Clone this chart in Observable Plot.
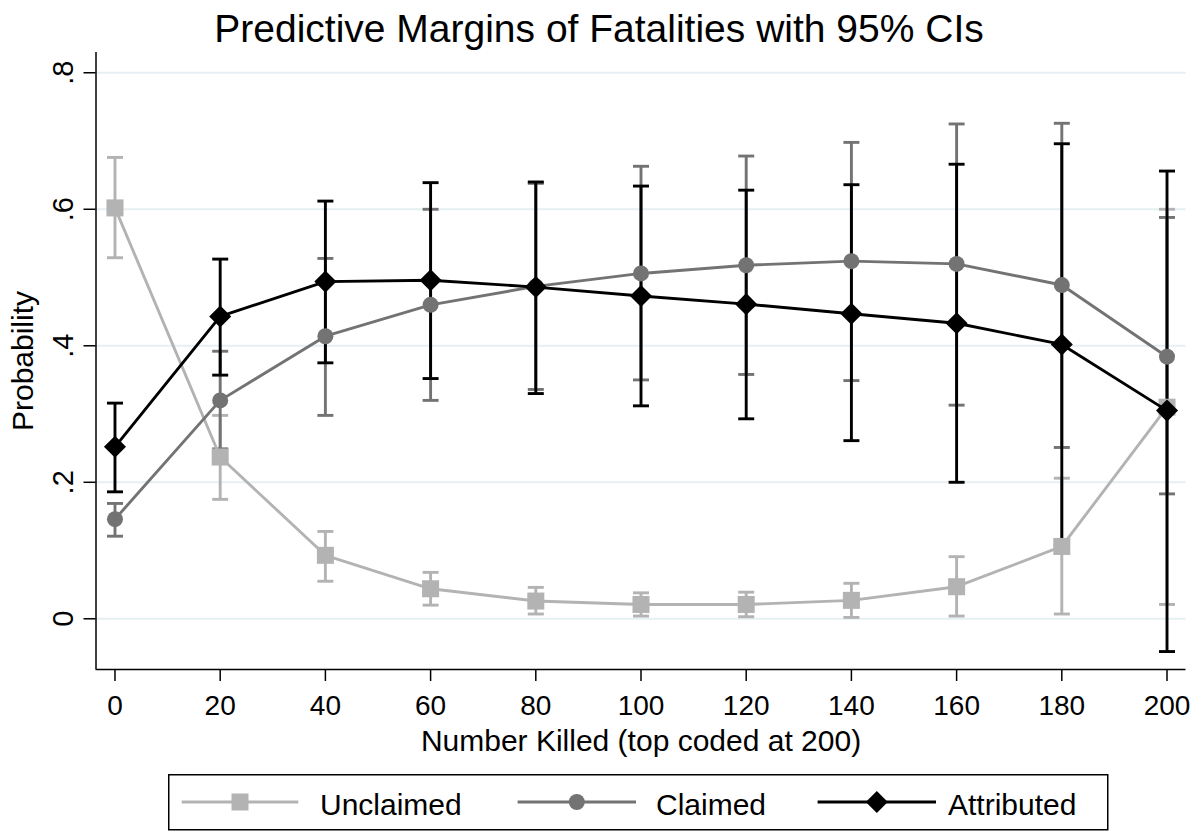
<!DOCTYPE html>
<html>
<head>
<meta charset="utf-8">
<script src="https://cdn.jsdelivr.net/npm/d3@7"></script>
<script src="https://cdn.jsdelivr.net/npm/@observablehq/plot@0.6"></script>
<style>
  html, body { margin: 0; padding: 0; background: #fff; }
  body { font-family: "Liberation Sans", Arial, Helvetica, sans-serif; }
  #wrap { position: relative; width: 1198px; height: 831px; overflow: hidden; background: #fff; }
  #title { position: absolute; left: 0; top: 0; width: 1198px; height: 50px; line-height: 57px;
           text-align: center; font-size: 39px; color: #000; white-space: nowrap; }
  #chart { position: absolute; left: 0; top: 50px; }
  #legend { position: absolute; left: 168px; top: 774px; }
</style>
</head>
<body>
<div id="wrap">
  <div id="title">Predictive Margins of Fatalities with 95% CIs</div>
  <div id="chart"></div>
  <div id="legend"></div>
</div>
<script>
// ---- data ----
const killed = [0, 20, 40, 60, 80, 100, 120, 140, 160, 180, 200];

const unclaimed   = [0.602, 0.237, 0.093, 0.044, 0.026, 0.021, 0.021, 0.027, 0.047, 0.106, 0.310];
const unclaimedLo = [0.529, 0.175, 0.055, 0.020, 0.007, 0.004, 0.003, 0.002, 0.004, 0.007, 0.021];
const unclaimedHi = [0.676, 0.298, 0.128, 0.068, 0.046, 0.038, 0.039, 0.052, 0.091, 0.206, 0.600];

const claimed   = [0.146, 0.320, 0.414, 0.460, 0.487, 0.506, 0.518, 0.524, 0.520, 0.489, 0.384];
const claimedLo = [0.121, 0.249, 0.298, 0.320, 0.336, 0.350, 0.358, 0.349, 0.313, 0.251, 0.183];
const claimedHi = [0.169, 0.392, 0.528, 0.600, 0.638, 0.663, 0.678, 0.698, 0.725, 0.726, 0.588];

const attributed   = [0.252, 0.443, 0.494, 0.496, 0.486, 0.473, 0.461, 0.447, 0.433, 0.402, 0.305];
const attributedLo = [0.186, 0.357, 0.375, 0.352, 0.330, 0.312, 0.293, 0.261, 0.200, 0.108, -0.048];
const attributedHi = [0.316, 0.527, 0.612, 0.639, 0.640, 0.634, 0.628, 0.636, 0.666, 0.696, 0.656];

const seriesNames = ["Unclaimed", "Claimed", "Attributed"];
const xTicks = [0, 20, 40, 60, 80, 100, 120, 140, 160, 180, 200];
const xTickLabels = ["0", "20", "40", "60", "80", "100", "120", "140", "160", "180", "200"];
const yTicks = [0, 0.2, 0.4, 0.6, 0.8];
const yTickLabels = ["0", ".2", ".4", ".6", ".8"];
const xTitle = "Number Killed (top coded at 200)";
const yTitle = "Probability";

// ---- styling ----
const colors = {Unclaimed: "#b3b3b3", Claimed: "#737373", Attributed: "#000000"};
const xDomain = [-3.61, 203.61];
const yDomain = [-0.0743, 0.8297];

const rows = [];
const sets = {
  Unclaimed: [unclaimed, unclaimedLo, unclaimedHi],
  Claimed: [claimed, claimedLo, claimedHi],
  Attributed: [attributed, attributedLo, attributedHi]
};
for (const s of seriesNames) {
  const [v, lo, hi] = sets[s];
  killed.forEach((k, i) => rows.push({series: s, x: k, y: v[i], lo: lo[i], hi: hi[i]}));
}
const bySeries = s => rows.filter(r => r.series === s);

const capSymbol = { draw(ctx) { ctx.moveTo(-8, 0); ctx.lineTo(8, 0); } };

const marks = [
  Plot.ruleY(yTicks, {stroke: "#e6eff2", strokeWidth: 2}),
];
// CIs first (Stata draws all CI plots under the lines)
for (const s of seriesNames) {
  const d = bySeries(s);
  marks.push(Plot.link(d, {x1: "x", x2: "x", y1: "lo", y2: "hi", stroke: colors[s], strokeWidth: 2.9}));
  marks.push(Plot.dot(d, {x: "x", y: "lo", symbol: capSymbol, fill: "none", stroke: colors[s], strokeWidth: 2.9}));
  marks.push(Plot.dot(d, {x: "x", y: "hi", symbol: capSymbol, fill: "none", stroke: colors[s], strokeWidth: 2.9}));
}
// lines + markers
const markerOpts = {
  Unclaimed: {symbol: "square", r: 9.6},
  Claimed: {symbol: "circle", r: 8},
  Attributed: {symbol: "square", r: 8.8, rotate: 45}
};
for (const s of seriesNames) {
  const d = bySeries(s);
  marks.push(Plot.line(d, {x: "x", y: "y", stroke: colors[s], strokeWidth: 2.9}));
  marks.push(Plot.dot(d, {x: "x", y: "y", fill: colors[s], stroke: "none", ...markerOpts[s]}));
}
// axes
marks.push(
  Plot.ruleX([xDomain[0]], {stroke: "#000", strokeWidth: 1.5}),
  Plot.ruleY([yDomain[0]], {stroke: "#000", strokeWidth: 1.5}),
  Plot.axisX({ticks: xTicks, tickSize: 12, strokeWidth: 1.5, label: null, tickFormat: () => ""}),
  Plot.axisY({ticks: yTicks, tickSize: 12, strokeWidth: 1.5, label: null, tickFormat: () => ""}),
  Plot.text(xTicks, {x: d => d, frameAnchor: "bottom", text: (d, i) => xTickLabels[i],
                     textAnchor: "middle", lineAnchor: "top", dy: 26, fontSize: 28, fill: "#000"}),
  Plot.text(yTicks, {y: d => d, frameAnchor: "left", text: (d, i) => yTickLabels[i], rotate: -90,
                     textAnchor: "middle", lineAnchor: "bottom", dx: -23, fontSize: 29, fill: "#000"}),
  Plot.text([yTitle], {frameAnchor: "left", text: d => d, rotate: -90, textAnchor: "middle",
                       lineAnchor: "middle", dx: -73, fontSize: 30, fill: "#000"}),
  Plot.text([xTitle], {frameAnchor: "bottom", text: d => d, textAnchor: "middle",
                       lineAnchor: "bottom", dy: 81, fontSize: 30, fill: "#000"})
);

const plot = Plot.plot({
  width: 1198,
  height: 715,
  marginTop: 2,
  marginBottom: 96,
  marginLeft: 95.5,
  marginRight: 12.5,
  style: {fontFamily: '"Liberation Sans", Arial, Helvetica, sans-serif', background: "transparent", color: "#000"},
  x: {domain: xDomain},
  y: {domain: yDomain},
  marks
});
document.getElementById("chart").appendChild(plot);

// ---- legend (below the chart) ----
const ns = "http://www.w3.org/2000/svg";
const lg = document.createElementNS(ns, "svg");
lg.setAttribute("width", 941);
lg.setAttribute("height", 57);
lg.style.fontFamily = '"Liberation Sans", Arial, Helvetica, sans-serif';
const el = (tag, attrs, parent = lg) => {
  const e = document.createElementNS(ns, tag);
  for (const k in attrs) e.setAttribute(k, attrs[k]);
  parent.appendChild(e);
  return e;
};
el("rect", {x: 0.75, y: 0.75, width: 939, height: 55, fill: "#fff", stroke: "#000", "stroke-width": 1.5});
const items = [
  {name: seriesNames[0], x0: 13.7, x1: 130.3, tx: 152},
  {name: seriesNames[1], x0: 349.6, x1: 468, tx: 488},
  {name: seriesNames[2], x0: 649.6, x1: 768, tx: 780}
];
items.forEach(it => {
  const c = colors[it.name], cx = (it.x0 + it.x1) / 2, cy = 28;
  el("line", {x1: it.x0, x2: it.x1, y1: cy, y2: cy, stroke: c, "stroke-width": 2.9});
  if (it.name === "Unclaimed") el("rect", {x: cx - 8.5, y: cy - 8.5, width: 17, height: 17, fill: c});
  else if (it.name === "Claimed") el("circle", {cx, cy, r: 8, fill: c});
  else el("path", {d: `M${cx},${cy - 11}L${cx + 11},${cy}L${cx},${cy + 11}L${cx - 11},${cy}Z`, fill: c});
  const t = el("text", {x: it.tx, y: 41, "font-size": 30, fill: "#000"});
  t.textContent = it.name;
});
document.getElementById("legend").appendChild(lg);
</script>
</body>
</html>
